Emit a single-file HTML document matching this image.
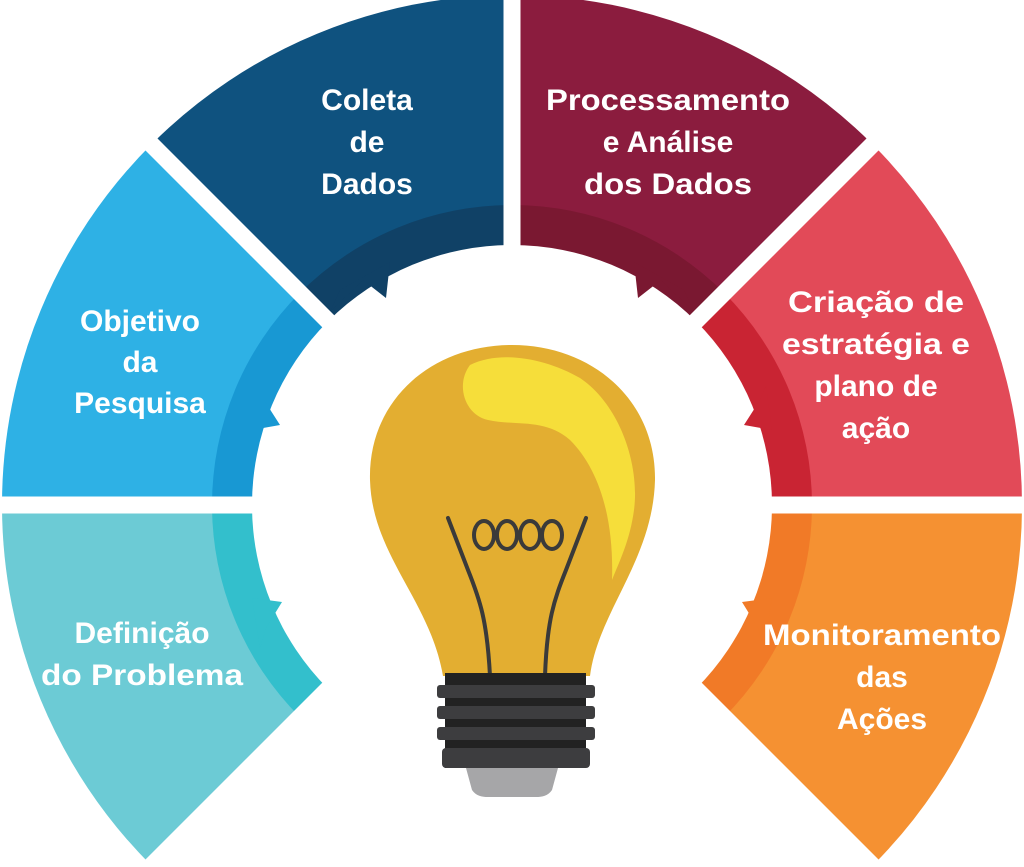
<!DOCTYPE html>
<html><head><meta charset="utf-8"><style>
html,body{margin:0;padding:0;background:#fff;width:1024px;height:867px;overflow:hidden}
svg{display:block}
text{font-family:"Liberation Sans",sans-serif;font-weight:bold;font-size:30px;fill:#fff;text-anchor:middle}
</style></head><body>
<svg width="1024" height="867" viewBox="0 0 1024 867" xmlns="http://www.w3.org/2000/svg">
<g>
<path d="M151.4,865.6 A510,510 0 0 1 2,505 L512,505 Z" fill="#6ccbd5"/>
<path d="M2,505 A510,510 0 0 1 151.4,144.4 L512,505 Z" fill="#2eb1e5"/>
<path d="M151.4,144.4 A510,510 0 0 1 512,-5 L512,505 Z" fill="#0f527f"/>
<path d="M512,-5 A510,510 0 0 1 872.6,144.4 L512,505 Z" fill="#8b1c3e"/>
<path d="M872.6,144.4 A510,510 0 0 1 1022,505 L512,505 Z" fill="#e24a58"/>
<path d="M1022,505 A510,510 0 0 1 872.6,865.6 L512,505 Z" fill="#f59132"/>
<!-- bands r=300 -->
<path d="M299.9,717.1 A300,300 0 0 1 212,505 L512,505 Z" fill="#33bfcc"/>
<path d="M212,505 A300,300 0 0 1 299.9,292.9 L512,505 Z" fill="#1898d3"/>
<path d="M299.9,292.9 A300,300 0 0 1 512,205 L512,505 Z" fill="#104166"/>
<path d="M512,205 A300,300 0 0 1 724.1,292.9 L512,505 Z" fill="#7a1831"/>
<path d="M724.1,292.9 A300,300 0 0 1 812,505 L512,505 Z" fill="#c92433"/>
<path d="M812,505 A300,300 0 0 1 724.1,717.1 L512,505 Z" fill="#f17a27"/>
</g>
<circle cx="512" cy="505" r="260" fill="#fff"/>
<!-- notches -->
<g>
<polygon points="330,312 363,280 386,298 390,262 340,290" fill="#104166"/>
<polygon points="694,312 661,280 638,298 634,262 684,290" fill="#7a1831"/>
<polygon points="258,386 264,400 280,425 252,430" fill="#1898d3"/>
<polygon points="766,386 760,400 744,425 772,430" fill="#c92433"/>
<polygon points="252,598 282,602 266,628 260,648" fill="#33bfcc"/>
<polygon points="772,598 742,602 758,628 764,648" fill="#f17a27"/>
</g>
<!-- gaps -->
<g stroke="#fff" stroke-width="17">
<line x1="512" y1="505" x2="0" y2="505"/>
<line x1="512" y1="505" x2="1024" y2="505"/>
<line x1="512" y1="505" x2="512" y2="-10"/>
<line x1="512" y1="505" x2="140" y2="133"/>
<line x1="512" y1="505" x2="884" y2="133"/>
<line x1="512" y1="505" x2="140" y2="877"/>
<line x1="512" y1="505" x2="884" y2="877"/>
</g>
<polygon points="512,505 140,877 884,877" fill="#fff"/>
<!-- text -->
<text x="367" y="110">Coleta</text>
<text x="367" y="152">de</text>
<text x="367" y="194">Dados</text>
<text x="668" y="110" textLength="244" lengthAdjust="spacingAndGlyphs">Processamento</text>
<text x="668" y="152">e Análise</text>
<text x="668" y="194" textLength="168" lengthAdjust="spacingAndGlyphs">dos Dados</text>
<text x="140" y="331">Objetivo</text>
<text x="140" y="372">da</text>
<text x="140" y="413">Pesquisa</text>
<text x="876" y="312" textLength="176" lengthAdjust="spacingAndGlyphs">Criação de</text>
<text x="876" y="354" textLength="188" lengthAdjust="spacingAndGlyphs">estratégia e</text>
<text x="876" y="396">plano de</text>
<text x="876" y="438">ação</text>
<text x="142" y="643">Definição</text>
<text x="142" y="685" textLength="202" lengthAdjust="spacingAndGlyphs">do Problema</text>
<text x="882" y="645" textLength="238" lengthAdjust="spacingAndGlyphs">Monitoramento</text>
<text x="882" y="687">das</text>
<text x="882" y="729">Ações</text>
<!-- bulb -->
<path d="M443,676 C430,600 372,555 370,480 C368,400 432,345 512,345 C592,345 656,400 655,480 C653,560 598,612 590,676 Z" fill="#e3ae31"/>
<path d="M470,365 C500,350 545,358 580,378 C620,405 640,465 634,510 C630,540 620,560 612,580 C614,520 600,470 570,440 C545,418 515,426 488,420 C465,415 455,385 470,365 Z" fill="#f6de3a"/>
<g fill="none" stroke="#3a3a3a" stroke-width="4" stroke-linecap="round">
<path d="M448,518 L468,570 C480,600 487,620 490,676"/>
<path d="M586,518 L566,570 C554,600 547,620 545,676"/>
<ellipse cx="484" cy="535" rx="10" ry="14"/>
<ellipse cx="507" cy="535" rx="10" ry="14"/>
<ellipse cx="530" cy="535" rx="10" ry="14"/>
<ellipse cx="552" cy="535" rx="10" ry="14"/>
</g>
<rect x="445" y="673" width="141" height="95" fill="#222"/>
<rect x="437" y="685" width="158" height="13" rx="3" fill="#3d3d3f"/>
<rect x="437" y="706" width="158" height="13" rx="3" fill="#3d3d3f"/>
<rect x="437" y="727" width="158" height="13" rx="3" fill="#3d3d3f"/>
<rect x="442" y="748" width="148" height="20" rx="4" fill="#3d3d3f"/>
<path d="M466,768 L558,768 L552,790 C548,796 542,797 536,797 L488,797 C482,797 476,796 472,790 Z" fill="#a6a6a8"/>
</svg>
</body></html>
